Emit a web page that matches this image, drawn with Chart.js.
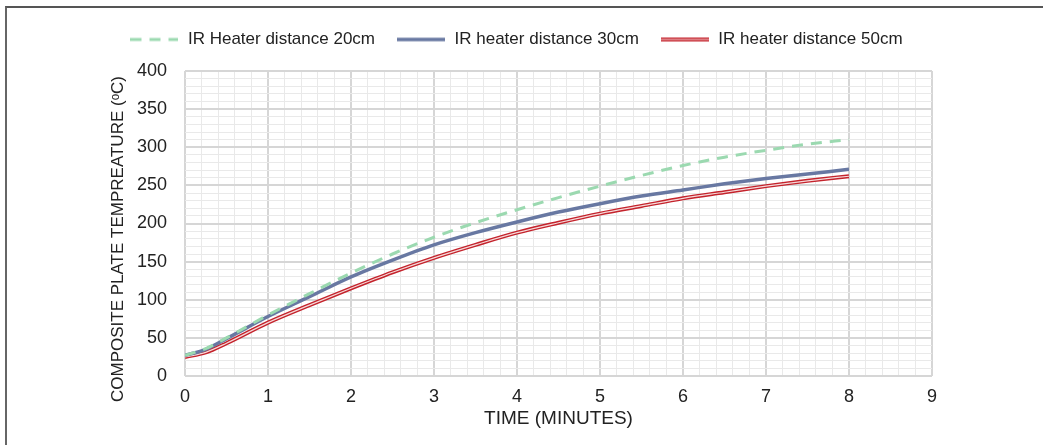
<!DOCTYPE html>
<html>
<head>
<meta charset="utf-8">
<script src="https://cdn.jsdelivr.net/npm/chart.js@4.4.1/dist/chart.umd.min.js"></script>
<style>
body{margin:0;background:#fff}
#wrap{position:relative;width:1043px;height:445px}
#frame{position:absolute;left:5px;top:6px;right:0;bottom:0;border-top:2px solid #555;border-left:2px solid #666}
canvas{position:absolute;left:0;top:0}
</style>
</head>
<body>
<div id="wrap">
<canvas id="chart" width="1043" height="445"></canvas>
<div id="frame"></div>
</div>
<script>
// time in minutes
const times=[0,0.25,0.5,1,1.5,2,2.5,3,3.5,4,4.5,5,5.5,6,6.5,7,7.5,8]
const temp20=[27,36,50,80,108,135,160,182,201,218,234,249,263,276,287,296,304,310]
const temp30=[27,35,49,78,104,130,152,172,188,202,215,226,236,244,252,259,265,271]
const temp50=[25,31,43,70,93,115,136,155,172,188,201,213,223,233,241,249,256,262]
const names=["IR Heater distance 20cm","IR heater distance 30cm","IR heater distance 50cm"]

const colGreen="#9bd9b0"
const colBlue="#6878a2"
const colRed="#c4232c"
const colRedCore="#f6dada"

function pts(vals){
return times.map((t,i)=>({x:t,y:vals[i]}))
}

// little legend samples
function sample(color,width,dash,core){
const c=document.createElement("canvas")
c.width=48;c.height=8
const g=c.getContext("2d")
g.strokeStyle=color
g.lineWidth=width
g.setLineDash(dash)
g.beginPath();g.moveTo(0,4);g.lineTo(48,4);g.stroke()
if(core){
g.strokeStyle=core;g.lineWidth=1
g.beginPath();g.moveTo(0,4);g.lineTo(48,4);g.stroke()
}
return c
}

const font="'Liberation Sans', Arial, sans-serif"
const isInt=v=>Math.abs(v-Math.round(v))<1e-6

const ctx=document.getElementById("chart")

new Chart(ctx,{
type:"line",
data:{
datasets:[
{label:names[0],data:pts(temp20),borderColor:colGreen,borderWidth:3,borderDash:[11,8],order:0,pointStyle:sample(colGreen,3,[11,8])},
{label:names[1],data:pts(temp30),borderColor:colBlue,borderWidth:3.5,order:1,pointStyle:sample(colBlue,3.5,[])},
{label:"",data:pts(temp50),borderColor:colRedCore,borderWidth:1.2,order:1.5},
{label:names[2],data:pts(temp50),borderColor:colRed,borderWidth:4,order:2,pointStyle:sample(colRed,4,[],colRedCore)}
]
},
options:{
responsive:false,
animation:false,
elements:{point:{radius:0},line:{cubicInterpolationMode:"monotone",fill:false}},
layout:{padding:{left:100,right:111,top:10,bottom:0}},
plugins:{
tooltip:{enabled:false},
legend:{
position:"top",
labels:{
font:{family:font,size:17},
color:"#222",
usePointStyle:true,
pointStyleWidth:50,
padding:21,
filter:item=>item.text!==""
}
}
},
scales:{
x:{
type:"linear",
min:0,max:9,
afterFit:s=>{s.height=69},
border:{display:false},
grid:{
drawTicks:false,
color:c=>isInt(c.tick.value)?"#d6d6d6":"#e9e9e9",
lineWidth:c=>isInt(c.tick.value)?2:1
},
ticks:{
stepSize:0.2,
autoSkip:false,
maxRotation:0,
padding:10,
color:"#222",
font:{family:font,size:18},
callback:v=>isInt(v)?Math.round(v):""
},
title:{display:true,text:"TIME (MINUTES)",color:"#222",font:{family:font,size:19},padding:{top:0,bottom:15}}
},
y:{
min:0,max:400,
afterFit:s=>{s.width=85},
border:{display:false},
grid:{
drawTicks:false,
color:c=>c.tick.value%50===0?"#d6d6d6":"#e9e9e9",
lineWidth:c=>c.tick.value%50===0?2:1
},
ticks:{
stepSize:10,
autoSkip:false,
padding:18,
color:"#222",
font:{family:font,size:18},
callback:v=>v%50===0?v:""
},
title:{display:false}
}
}
},
plugins:[{
id:"legendGap",
beforeInit(chart){
const fit=chart.legend.fit
chart.legend.fit=function(){fit.bind(chart.legend)();this.height=61}
}
},{
id:"yTitle",
afterDraw(chart){
const g=chart.ctx
g.save()
g.translate(118,239)
g.rotate(-Math.PI/2)
g.font="17px "+font
g.fillStyle="#222"
g.textAlign="center"
g.textBaseline="middle"
g.fillText("COMPOSITE PLATE TEMPREATURE (ᵒC)",0,0)
g.restore()
}
}]
})
</script>
</body>
</html>
